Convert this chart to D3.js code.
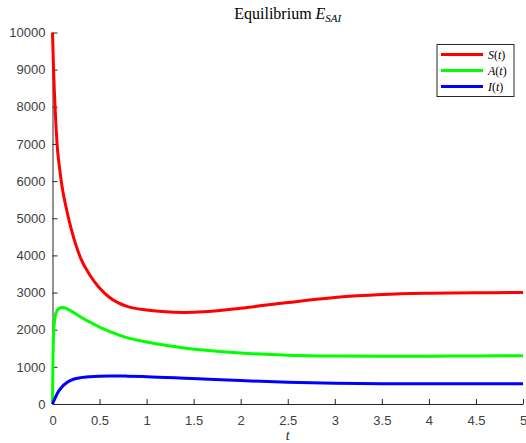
<!DOCTYPE html>
<html>
<head>
<meta charset="utf-8">
<script src="https://cdn.jsdelivr.net/npm/d3@7"></script>
<style>
  body { margin: 0; background: #fff; }
  svg { display: block; }
</style>
</head>
<body>
<div id="chart"></div>
<script>
// ========== DATA ==========
const tValues = [0, 0.005, 0.01, 0.02, 0.03, 0.05, 0.075, 0.1, 0.15, 0.2, 0.25, 0.3, 0.4, 0.5,
  0.6, 0.7, 0.8, 1.0, 1.2, 1.4, 1.6, 2.0, 2.5, 3.0, 3.5, 4.0, 4.5, 5.0];
const sValues = [10000, 9550, 9100, 8400, 7850, 6950, 6350, 5880, 5230, 4700, 4270, 3920, 3460, 3120,
  2880, 2720, 2620, 2530, 2480, 2465, 2480, 2580, 2730, 2865, 2945, 2980, 2995, 3000];
const aValues = [0, 1200, 1800, 2200, 2380, 2520, 2580, 2600, 2570, 2500, 2420, 2340, 2200, 2070,
  1960, 1860, 1780, 1670, 1580, 1510, 1455, 1370, 1315, 1292, 1285, 1288, 1294, 1300];
const iValues = [0, 30, 60, 120, 175, 280, 380, 460, 570, 640, 685, 710, 735, 748,
  753, 754, 750, 735, 715, 695, 675, 630, 585, 558, 547, 543, 542, 542];

const xTicks = [0, 0.5, 1, 1.5, 2, 2.5, 3, 3.5, 4, 4.5, 5];
const yTicks = [0, 1000, 2000, 3000, 4000, 5000, 6000, 7000, 8000, 9000, 10000];

const seriesNames = ["S", "A", "I"];
const seriesColors = ["#ff0000", "#00ff00", "#0000ff"];
const seriesData = [sValues, aValues, iValues];

// ========== LAYOUT ==========
const width = 526, height = 443;
const margin = { left: 52.5, right: 3, top: 32.5, bottom: 39 };

const svg = d3.select("#chart").append("svg")
  .attr("width", width)
  .attr("height", height);

const x = d3.scaleLinear().domain([0, 5]).range([margin.left, width - margin.right]);
const y = d3.scaleLinear().domain([0, 10000]).range([height - margin.bottom, margin.top]);

// ========== AXES ==========
const axisColor = "#262626";
const labelColor = "#404040";

const xAxis = svg.append("g")
  .attr("transform", `translate(0, ${y(0)})`)
  .call(d3.axisBottom(x).tickValues(xTicks).tickSizeInner(-5).tickSizeOuter(0).tickPadding(12)
    .tickFormat(d3.format("")));

const yAxis = svg.append("g")
  .attr("transform", `translate(${x(0)}, 0)`)
  .call(d3.axisLeft(y).tickValues(yTicks).tickSizeInner(-5).tickSizeOuter(0).tickPadding(7)
    .tickFormat(d3.format("d")));

[xAxis, yAxis].forEach(g => {
  g.select(".domain").attr("stroke", axisColor).attr("stroke-width", 1);
  g.selectAll(".tick line").attr("stroke", axisColor);
  g.selectAll(".tick text")
    .attr("fill", labelColor)
    .style("font-family", "Liberation Sans, Arial, sans-serif")
    .style("font-size", "13px");
});

// x label
svg.append("text")
  .attr("x", (x(0) + x(5)) / 2)
  .attr("y", 440)
  .attr("text-anchor", "middle")
  .style("font-family", "Liberation Serif, DejaVu Serif, serif")
  .style("font-style", "italic")
  .style("font-size", "14px")
  .attr("fill", "#262626")
  .text("t");

// title
const title = svg.append("text")
  .attr("x", (x(0) + x(5)) / 2)
  .attr("y", 19)
  .attr("text-anchor", "middle")
  .style("font-family", "Liberation Serif, DejaVu Serif, serif")
  .style("font-size", "16px")
  .attr("fill", "#000");
title.append("tspan").text("Equilibrium ");
title.append("tspan").style("font-style", "italic").text("E");
title.append("tspan").style("font-style", "italic").style("font-size", "11px")
  .attr("dy", 3).text("SAI");

// ========== LINES ==========
const line = d3.line()
  .x((d, i) => x(tValues[i]))
  .y(d => y(d))
  .curve(d3.curveMonotoneX);

svg.append("g")
  .selectAll("path")
  .data(seriesData)
  .join("path")
  .attr("d", d => line(d))
  .attr("fill", "none")
  .attr("stroke", (d, i) => seriesColors[i])
  .attr("stroke-width", 3)
  .attr("stroke-linejoin", "round");

// ========== LEGEND ==========
const legend = svg.append("g").attr("transform", "translate(437, 44.5)");
legend.append("rect")
  .attr("width", 77)
  .attr("height", 52)
  .attr("fill", "#fff")
  .attr("stroke", axisColor)
  .attr("stroke-width", 1);

seriesNames.forEach((name, i) => {
  const ly = 10 + i * 16;
  legend.append("line")
    .attr("x1", 4).attr("x2", 46)
    .attr("y1", ly).attr("y2", ly)
    .attr("stroke", seriesColors[i])
    .attr("stroke-width", 3);
  const txt = legend.append("text")
    .attr("x", 51)
    .attr("y", ly + 4)
    .style("font-family", "Liberation Serif, DejaVu Serif, serif")
    .style("font-size", "12px")
    .attr("fill", "#000");
  txt.append("tspan").style("font-style", "italic").text(name);
  txt.append("tspan").text("(");
  txt.append("tspan").style("font-style", "italic").text("t");
  txt.append("tspan").text(")");
});
</script>
</body>
</html>
